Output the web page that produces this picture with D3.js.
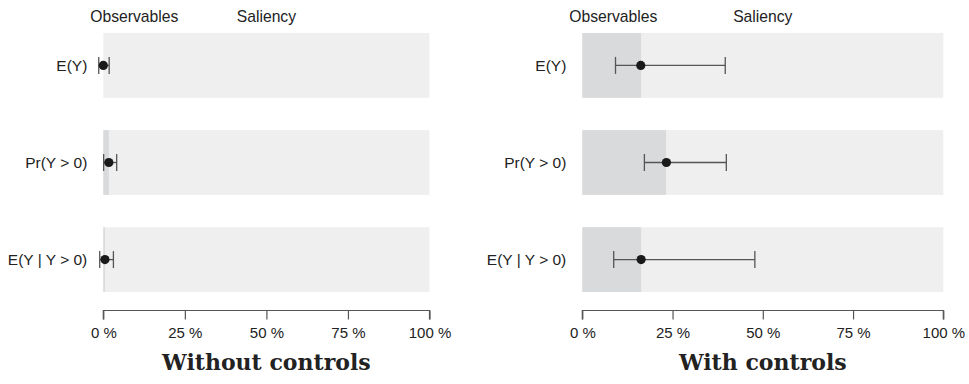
<!DOCTYPE html>
<html>
<head>
<meta charset="utf-8">
<script src="https://cdn.jsdelivr.net/npm/d3@7"></script>
<style>
  body { margin: 0; background: #fff; }
  text { font-family: "Liberation Sans", Arial, sans-serif; fill: #222; }
</style>
</head>
<body>
<svg id="chart" width="969" height="384"></svg>
<script>
// rows of both panels
const outcomes = ['E(Y)', 'Pr(Y > 0)', 'E(Y | Y > 0)']
const ticks = [0, 25, 50, 75, 100]

// share explained by observables (%), point estimate and CI
const noCtrlShare = [0, 1.7, 0.5]
const noCtrlPoint = [0, 1.7, 0.5]
const noCtrlLow = [-1.4, 0.1, -1.1]
const noCtrlHigh = [1.8, 4.1, 3.1]

const ctrlShare = [16.3, 23.2, 16.3]
const ctrlPoint = [16.2, 23.3, 16.3]
const ctrlLow = [9.2, 17.2, 8.7]
const ctrlHigh = [39.6, 39.9, 47.8]

const panels = [
  {title: 'Without controls', x0: 103.3, x1: 429.5, share: noCtrlShare, point: noCtrlPoint, low: noCtrlLow, high: noCtrlHigh},
  {title: 'With controls', x0: 582.3, x1: 943.3, share: ctrlShare, point: ctrlPoint, low: ctrlLow, high: ctrlHigh}
]

const svg = d3.select('#chart')

let y = d3.scaleBand()
  .domain(outcomes)
  .range([33, 292])
  .paddingInner(0.333)

for (let p of panels) {
  let x = d3.scaleLinear().domain([0, 100]).range([p.x0, p.x1])
  let g = svg.append('g')

  // headings
  g.append('text')
    .attr('x', x(0) + 31).attr('y', 22)
    .attr('text-anchor', 'middle').attr('font-size', 15.7)
    .text('Observables')
  g.append('text')
    .attr('x', x(50)).attr('y', 22)
    .attr('text-anchor', 'middle').attr('font-size', 15.7)
    .text('Saliency')

  let rows = g.selectAll('g.row')
    .data(outcomes)
    .enter()
    .append('g')
    .attr('class', 'row')

  // light background band (saliency)
  rows.append('rect')
    .attr('x', x(0))
    .attr('y', d => y(d))
    .attr('width', x(100) - x(0))
    .attr('height', y.bandwidth())
    .attr('fill', '#efefef')

  // darker part for observables
  rows.append('rect')
    .attr('x', x(0))
    .attr('y', d => y(d))
    .attr('width', (d, i) => x(p.share[i]) - x(0))
    .attr('height', y.bandwidth())
    .attr('fill', '#d9dadc')

  rows.append('text')
    .attr('x', x(0) - 16)
    .attr('y', d => y(d) + y.bandwidth() / 2)
    .attr('dy', '0.35em')
    .attr('text-anchor', 'end')
    .attr('font-size', 15.5)
    .text(d => d)

  // confidence interval
  let mid = d => y(d) + y.bandwidth() / 2
  rows.append('line')
    .attr('x1', (d, i) => x(p.low[i]))
    .attr('x2', (d, i) => x(p.high[i]))
    .attr('y1', mid).attr('y2', mid)
    .attr('stroke', '#555').attr('stroke-width', 1.3)
  rows.append('line')
    .attr('x1', (d, i) => x(p.low[i]))
    .attr('x2', (d, i) => x(p.low[i]))
    .attr('y1', d => mid(d) - 8.5).attr('y2', d => mid(d) + 8.5)
    .attr('stroke', '#555').attr('stroke-width', 1.3)
  rows.append('line')
    .attr('x1', (d, i) => x(p.high[i]))
    .attr('x2', (d, i) => x(p.high[i]))
    .attr('y1', d => mid(d) - 8.5).attr('y2', d => mid(d) + 8.5)
    .attr('stroke', '#555').attr('stroke-width', 1.3)
  rows.append('circle')
    .attr('cx', (d, i) => x(p.point[i]))
    .attr('cy', mid)
    .attr('r', 4.6)
    .attr('fill', '#1a1a1a')

  // x axis
  let axis = g.append('g')
    .attr('transform', 'translate(0,310.5)')
    .call(d3.axisBottom(x).tickValues(ticks).tickSize(9).tickPadding(8)
      .tickFormat(d => d + ' %'))
  axis.select('.domain').attr('stroke', '#555').attr('stroke-width', 1.2)
    .attr('d', `M${x(0)},9V0H${x(100)}V9`)
  axis.selectAll('.tick line').attr('stroke', '#555').attr('stroke-width', 1.2)
  axis.selectAll('.tick text')
    .attr('font-size', 15)
    .attr('font-family', '"Liberation Sans", Arial, sans-serif')
    .attr('fill', '#222')

  g.append('text')
    .attr('x', x(50)).attr('y', 370)
    .attr('text-anchor', 'middle')
    .attr('font-size', 22)
    .attr('font-weight', 'bold')
    .style('font-family', '"DejaVu Serif", serif')
    .text(p.title)
}
</script>
</body>
</html>
